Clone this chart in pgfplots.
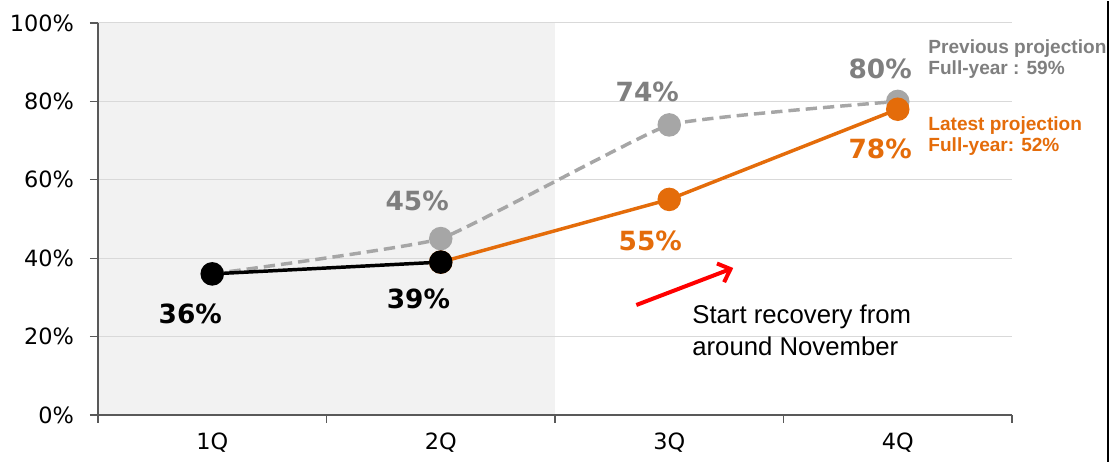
\documentclass[border=0pt]{standalone}
\usepackage{pgfplots}
\pgfplotsset{compat=1.18}
\usepackage{fontspec}
\setmainfont{DejaVu Sans}
\newfontfamily\arial{Liberation Sans}
\usetikzlibrary{arrows.meta}
\definecolor{myorange}{HTML}{E46C0A}
\definecolor{markgray}{HTML}{A6A6A6}
\definecolor{textgray}{HTML}{7F7F7F}
\definecolor{shadegray}{HTML}{F2F2F2}
\definecolor{gridgray}{HTML}{D9D9D9}
\definecolor{axisgray}{HTML}{595959}
\begin{document}
\begin{tikzpicture}
\begin{axis}[
  set layers,
  scale only axis, width=685.5pt, height=294pt,
  xmin=-0.5, xmax=3.5, ymin=0, ymax=100,
  clip=false,
  axis x line=bottom, axis y line=left,
  axis line style={draw=axisgray, line width=1.1pt, -},
  xtick={0,1,2,3}, xticklabels={1Q,2Q,3Q,4Q},
  minor xtick={-0.5,0.5,1.5,2.5,3.5},
  major x tick style={draw=none},
  minor x tick style={draw=axisgray, line width=0.9pt},
  ytick={0,20,40,60,80,100},
  yticklabels={0\%,20\%,40\%,60\%,80\%,100\%},
  major y tick style={draw=axisgray, line width=0.9pt},
  tick align=outside, major tick length=6pt, minor tick length=6pt,
  ymajorgrids, major grid style={draw=gridgray, line width=0.75pt},
  tick label style={font=\fontsize{16.8}{19}\selectfont, text=black},
  xticklabel style={yshift=-4pt},
  yticklabel style={xshift=-8.5pt},
]
\begin{pgfonlayer}{axis background}
\fill[shadegray] (axis cs:-0.5,0) rectangle (axis cs:1.5,100);
\end{pgfonlayer}
\addplot[markgray, smooth, tension=0.2, line width=2.6pt, dash pattern=on 8.5pt off 4.5pt,
  mark=*, mark size=7.5pt, mark options={solid, fill=markgray, draw=none}]
  coordinates {(0,36)(1,45)(2,74)(3,80)};
\addplot[myorange, line width=2.6pt, mark=*, mark size=7.5pt, mark options={fill=myorange, draw=none}]
  coordinates {(1,39)(2,55)(3,78)};
\addplot[black, line width=2.6pt, mark=*, mark size=7.5pt, mark options={fill=black, draw=none}]
  coordinates {(0,36)(1,39)};
% data labels
\node[font=\fontsize{19.8}{22}\bfseries\selectfont, text=black] at (axis cs:-0.096,25.8) {36\%};
\node[font=\fontsize{19.8}{22}\bfseries\selectfont, text=black] at (axis cs:0.902,29.6) {39\%};
\node[font=\fontsize{19.8}{22}\bfseries\selectfont, text=textgray] at (axis cs:0.897,54.6) {45\%};
\node[font=\fontsize{19.8}{22}\bfseries\selectfont, text=textgray] at (axis cs:1.904,82.4) {74\%};
\node[font=\fontsize{19.8}{22}\bfseries\selectfont, text=myorange] at (axis cs:1.917,44.4) {55\%};
\node[font=\fontsize{19.8}{22}\bfseries\selectfont, text=textgray] at (axis cs:2.923,88.3) {80\%};
\node[font=\fontsize{19.8}{22}\bfseries\selectfont, text=myorange] at (axis cs:2.923,67.9) {78\%};
% annotations
\node[anchor=west, align=left, inner sep=0pt, text=textgray,
  font=\arial\bfseries\fontsize{14.3}{15.75}\selectfont] at (axis cs:3.133,90.9)
  {Previous projection\\Full-year : 59\%};
\node[anchor=west, align=left, inner sep=0pt, text=myorange,
  font=\arial\bfseries\fontsize{14.3}{15.75}\selectfont] at (axis cs:3.133,71.2)
  {Latest projection\\Full-year: 52\%};
\node[anchor=west, align=left, inner sep=0pt, text=black,
  font=\arial\fontsize{19.3}{24}\selectfont] at (axis cs:2.10,21.7)
  {Start recovery from\\around November};
\draw[red, line width=3pt, -{Straight Barb[length=8pt, width=15pt, line width=3pt]}]
  (axis cs:1.856,28.06) -- (axis cs:2.28,37.5);
\end{axis}
\draw[black, line width=1.5pt] (757.5pt,-35.25pt) -- (757.5pt,310.5pt);
\path[use as bounding box] (-73.5pt,-35.25pt) rectangle (762pt,310.5pt);
\end{tikzpicture}
\end{document}
